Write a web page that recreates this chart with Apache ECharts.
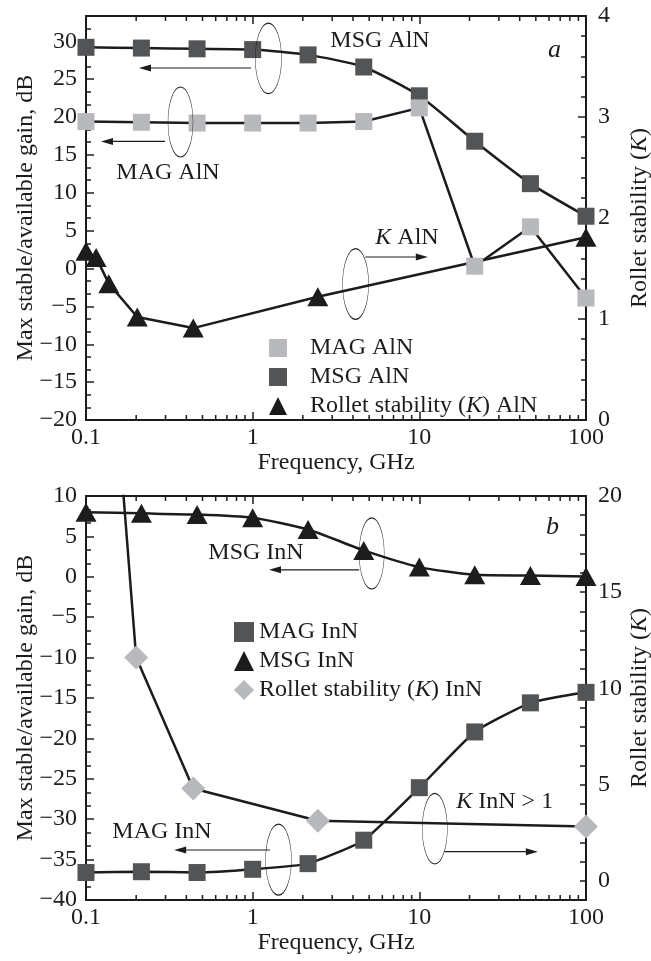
<!DOCTYPE html>
<html lang="en">
<head>
<meta charset="UTF-8">
<title>MAG / MSG and Rollet stability, AlN and InN</title>
<script src="https://cdn.jsdelivr.net/npm/echarts@6/dist/echarts.min.js"></script>
<style>
    html, body { margin: 0; padding: 0; background: #fff; }
    #chart { width: 651px; height: 961px; }
</style>
</head>
<body>
<div id="chart"></div>
<script>
    // frequency points, GHz
    var freq = [0.1, 0.215, 0.464, 1, 2.15, 4.64, 10, 21.5, 46.4, 100];

    // panel a: AlN
    var magAlN = [19.4, 19.3, 19.2, 19.2, 19.2, 19.4, 21.2, 0.3, 5.5, -3.9];
    var msgAlN = [29.2, 29.1, 29.0, 28.9, 28.2, 26.6, 22.8, 16.8, 11.2, 6.9];
    var kAlNFreq = [0.1, 0.115, 0.137, 0.203, 0.44, 2.46, 100];
    var kAlN = [1.67, 1.61, 1.35, 1.02, 0.91, 1.22, 1.81];

    // panel b: InN
    var magInN = [-36.6, -36.5, -36.6, -36.2, -35.5, -32.6, -26.1, -19.2, -15.6, -14.3];
    var msgInN = [8.0, 7.85, 7.7, 7.3, 5.85, 3.27, 1.2, 0.24, 0.15, 0.05];
    var kInNFreq = [0.1, 0.2, 0.44, 2.46, 100];
    var kInN = [45, 11.6, 4.8, 3.12, 2.82];

    // log axis minor tick multipliers
    var decades = [0.1, 1, 10];
    var minorMult = [2, 3, 4, 5, 6, 7, 8, 9];

    var FONT = 'Liberation Serif';
    var INK = '#1c1c1c';
    var LIGHT = '#b8b9bc';
    var DARK = '#535456';
    var FS = 24;

    function pairs(xs, ys) {
        return xs.map(function (x, i) { return [x, ys[i]]; });
    }
    function minus(v) {
        return String(v).replace('-', '\u2212');
    }
    function italicK(name) {
        return name.replace('(K)', '({i|K})');
    }
    var richI = { i: { fontFamily: FONT, fontSize: FS, fontStyle: 'italic', color: INK, lineHeight: 22 } };

    var minorTicks = [];
    decades.forEach(function (d) {
        minorMult.forEach(function (m) { minorTicks.push([+(d * m).toPrecision(3), 0]); });
    });

    var chart = echarts.init(document.getElementById('chart'));

    var axisLine = { onZero: false, lineStyle: { color: INK, width: 2 } };
    var tickStyle = { color: INK, width: 1.5 };

    function xBottom(g) {
        return {
            type: 'log', logBase: 10, gridIndex: g, min: 0.1, max: 100, position: 'bottom',
            name: 'Frequency, GHz', nameLocation: 'middle', nameGap: 30,
            nameTextStyle: { fontFamily: FONT, fontSize: FS, color: INK },
            axisLine: axisLine,
            axisTick: { inside: true, length: 8, lineStyle: tickStyle },
            axisLabel: {
                fontFamily: FONT, fontSize: FS, color: INK, margin: 6,
                formatter: function (v) { return String(+(+v).toPrecision(2)); }
            },
            splitLine: { show: false }
        };
    }
    function xTop(g) {
        return {
            type: 'log', logBase: 10, gridIndex: g, min: 0.1, max: 100, position: 'top',
            axisLine: axisLine,
            axisTick: { inside: true, length: 8, lineStyle: tickStyle },
            axisLabel: { show: false },
            splitLine: { show: false }
        };
    }
    function yAxis(g, pos, min, max, interval, minorSplit, every, name, gap) {
        return {
            type: 'value', gridIndex: g, position: pos, min: min, max: max, interval: interval,
            name: name, nameLocation: 'middle', nameRotate: 90, nameGap: gap, nameMoveOverlap: false,
            nameTextStyle: { fontFamily: FONT, fontSize: FS, color: INK, rich: richI },
            axisLine: axisLine,
            axisTick: { inside: true, length: minorSplit ? 8 : 6, lineStyle: tickStyle },
            minorTick: { show: !!minorSplit, splitNumber: minorSplit || 5, length: 5, lineStyle: tickStyle },
            axisLabel: {
                fontFamily: FONT, fontSize: FS, color: INK, margin: pos === 'left' ? 9 : 12,
                formatter: function (v) {
                    var r = Math.round(v);
                    if (Math.abs(v - r) > 1e-6 || r % every !== 0) return '';
                    return minus(r);
                }
            },
            splitLine: { show: false },
            minorSplitLine: { show: false }
        };
    }

    function minorTickSeries(xi, yi) {
        return {
            type: 'custom', xAxisIndex: xi, yAxisIndex: yi, silent: true, clip: false, z: 5,
            data: minorTicks,
            renderItem: function (params, api) {
                var x = api.coord([api.value(0), api.value(1)])[0];
                var cs = params.coordSys;
                var yb = cs.y + cs.height, yt = cs.y;
                var st = { stroke: INK, lineWidth: 1.5 };
                return {
                    type: 'group', children: [
                        { type: 'line', shape: { x1: x, y1: yb, x2: x, y2: yb - 5 }, style: st },
                        { type: 'line', shape: { x1: x, y1: yt, x2: x, y2: yt + 5 }, style: st }
                    ]
                };
            }
        };
    }

    function lineSeries(name, xi, yi, data, symbol, size, color, smooth) {
        return {
            name: name, type: 'line', xAxisIndex: xi, yAxisIndex: yi, data: data,
            symbol: symbol, symbolSize: size, showAllSymbol: true, smooth: smooth || false,
            itemStyle: { color: color, borderWidth: 0 },
            lineStyle: { color: INK, width: 2.5 },
            emphasis: { disabled: true }
        };
    }

    // annotation helpers (ellipses, arrows, texts)
    function ellipse(cx, cy, rx, ry) {
        return {
            type: 'circle', x: cx, y: cy, scaleX: rx / ry, silent: true, z: 100,
            shape: { cx: 0, cy: 0, r: ry },
            style: { fill: 'none', stroke: INK, lineWidth: 1.2, strokeNoScale: true }
        };
    }
    function arrow(x1, y, x2) {
        var dir = x2 > x1 ? 1 : -1, hl = 12, hw = 3.5;
        return [
            { type: 'line', silent: true, z: 100, shape: { x1: x1, y1: y, x2: x2 - dir * hl, y2: y }, style: { stroke: INK, lineWidth: 1.2 } },
            { type: 'polygon', silent: true, z: 100, shape: { points: [[x2, y], [x2 - dir * hl, y - hw], [x2 - dir * hl, y + hw]] }, style: { fill: INK } }
        ];
    }
    function note(x, y, text, size) {
        return {
            type: 'text', x: x, y: y, silent: true, z: 100,
            style: {
                text: text, fontFamily: FONT, fontSize: size || FS, fill: INK,
                align: 'center', verticalAlign: 'middle',
                rich: { i: { fontFamily: FONT, fontSize: size || FS, fontStyle: 'italic', fill: INK } }
            }
        };
    }

    var notes = [].concat(
        [ellipse(268.4, 58.4, 13.1, 35.3)], arrow(251, 68, 139),
        [ellipse(180.5, 122, 12.5, 35)], arrow(165, 141.4, 101),
        [note(168, 173, 'MAG AlN'), note(380, 40.4, 'MSG AlN'), note(554.5, 49.7, '{i|a}', 26)],
        [note(407, 237.3, '{i|K} AlN')], arrow(365.4, 257, 427.8),
        [ellipse(355.6, 284, 13, 35.4)],
        [note(256, 553, 'MSG InN'), note(552.4, 526.9, '{i|b}', 26)], arrow(359.2, 569.8, 269),
        [ellipse(371.7, 553.4, 12.5, 35.6)],
        [note(162, 831.7, 'MAG InN')], arrow(269.8, 850, 174.2),
        [ellipse(278.5, 859.6, 12.9, 35.5)],
        [note(504.7, 801.7, '{i|K} InN > 1')], [ellipse(434.8, 828.7, 12.5, 35.3)], arrow(444.4, 851.7, 537.9)
    );

    var legendText = {
        fontFamily: FONT, fontSize: FS, color: INK, lineHeight: 22, rich: richI
    };

    chart.setOption({
        animation: false,
        backgroundColor: '#fff',
        grid: [
            { left: 86, right: 65, top: 16, height: 404, outerBoundsMode: 'none' },
            { left: 86, right: 65, top: 496, height: 404, outerBoundsMode: 'none' }
        ],
        xAxis: [xBottom(0), xTop(0), xBottom(1), xTop(1)],
        yAxis: [
            yAxis(0, 'left', -20, 100 / 3, 5, 3, 5, 'Max stable/available gain, dB', 48),
            yAxis(0, 'right', 0, 4, 1, 5, 1, 'Rollet stability ({i|K})', 42),
            yAxis(1, 'left', -40, 10, 5, 3, 5, 'Max stable/available gain, dB', 48),
            yAxis(1, 'right', -1, 20, 1, 0, 5, 'Rollet stability ({i|K})', 42)
        ],
        legend: [{
            orient: 'vertical', left: 264, top: 331, itemWidth: 18, itemHeight: 18, itemGap: 5,
            selectedMode: false, formatter: italicK,
            textStyle: Object.assign({ padding: [0, 0, 0, 18] }, legendText),
            data: [
                { name: 'MAG AlN', icon: 'rect', itemStyle: { color: LIGHT } },
                { name: 'MSG AlN', icon: 'rect', itemStyle: { color: DARK } },
                { name: 'Rollet stability (K) AlN', icon: 'triangle', itemStyle: { color: INK } }
            ]
        }, {
            orient: 'vertical', left: 229, top: 615, itemWidth: 20, itemHeight: 20, itemGap: 5,
            selectedMode: false, formatter: italicK,
            textStyle: Object.assign({ padding: [0, 0, 0, 0] }, legendText),
            data: [
                { name: 'MAG InN', icon: 'rect', itemStyle: { color: DARK } },
                { name: 'MSG InN', icon: 'triangle', itemStyle: { color: INK } },
                { name: 'Rollet stability (K) InN', icon: 'diamond', itemStyle: { color: LIGHT } }
            ]
        }],
        series: [
            lineSeries('Rollet stability (K) AlN', 0, 1, pairs(kAlNFreq, kAlN), 'triangle', [21, 19], INK),
            lineSeries('MSG AlN', 0, 0, pairs(freq, msgAlN), 'rect', 17, DARK, 0.2),
            lineSeries('MAG AlN', 0, 0, pairs(freq, magAlN), 'rect', 17, LIGHT),
            minorTickSeries(0, 0),
            lineSeries('Rollet stability (K) InN', 2, 3, pairs(kInNFreq, kInN), 'diamond', 24, LIGHT),
            lineSeries('MAG InN', 2, 2, pairs(freq, magInN), 'rect', 17, DARK, 0.15),
            lineSeries('MSG InN', 2, 2, pairs(freq, msgInN), 'triangle', [21, 19], INK, 0.2),
            minorTickSeries(2, 2)
        ],
        graphic: { elements: notes }
    });
</script>
</body>
</html>
